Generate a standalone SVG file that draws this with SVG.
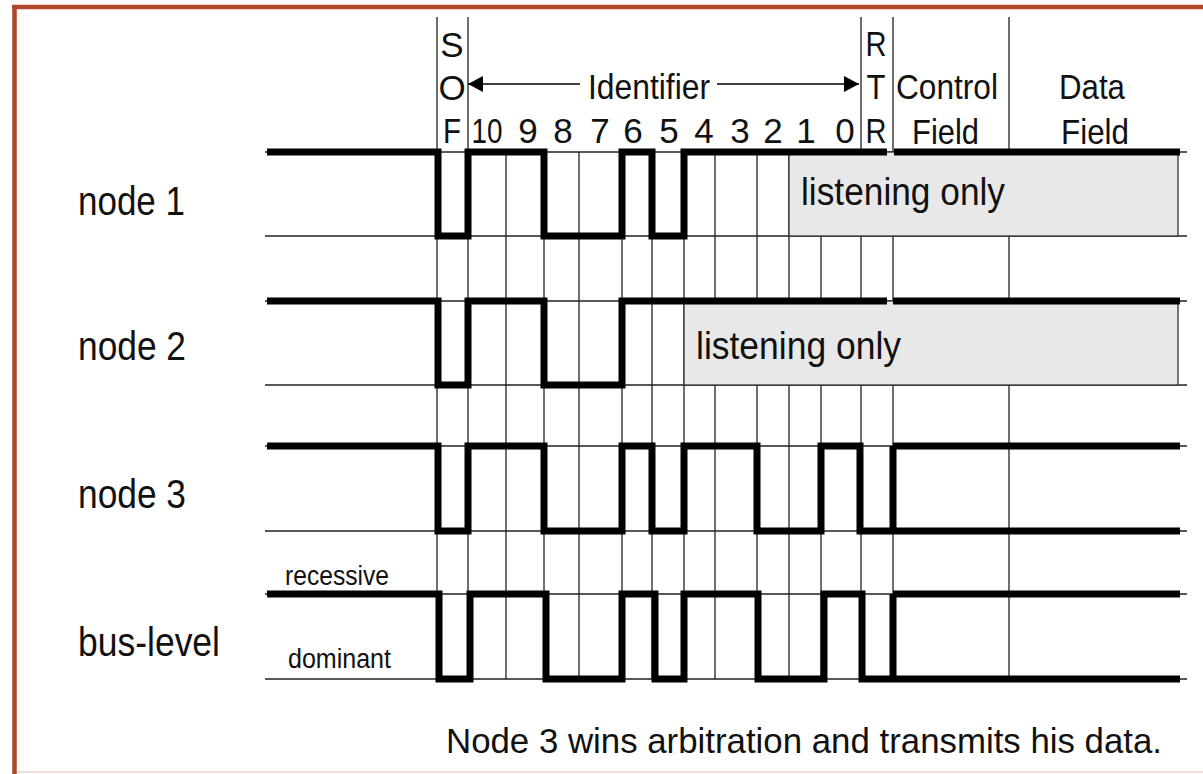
<svg xmlns="http://www.w3.org/2000/svg" width="1203" height="774" viewBox="0 0 1203 774">
<style>
text{font-family:"Liberation Sans",Arial,sans-serif;fill:#111}
.hd{font-size:35px}
.lbl{font-size:41px}
.sm{font-size:27px}
.li{font-size:39px}
.thin{stroke:#222;stroke-width:1.3;fill:none}
.sig{stroke:#000;stroke-width:7;fill:none;stroke-linejoin:miter;stroke-linecap:butt}
.box{fill:#e8e8e8;stroke:#333;stroke-width:1.3}
</style>
<defs>
<marker id="arr" viewBox="0 0 15 16" refX="15" refY="8" markerWidth="15" markerHeight="16" markerUnits="userSpaceOnUse" orient="auto-start-reverse">
<path d="M0,0 L15,8 L0,16 z" fill="#000"/>
</marker>
</defs>
<rect x="0" y="0" width="1203" height="774" fill="#fff"/>
<g id="frame">
<line x1="12" y1="7" x2="1203" y2="7" stroke="#b0472b" stroke-width="4.5"/>
<line x1="14.5" y1="5" x2="14.5" y2="774" stroke="#b0472b" stroke-width="4.5"/>
<line x1="17" y1="772" x2="1203" y2="772" stroke="#ecdfdb" stroke-width="2"/>
</g>
<g id="grid" class="thin">
<path d="M265,152H1187M265,236H1187M265,301H1187M265,385H1187M265,446H1187M265,531H1187M265,594H1187M265,679H1187"/>
<path d="M437,17V679M468,17V679M861,17V679M893,17V679M1009,17V679"/>
<path d="M506,152V679M544,152V679M579,152V679M622,152V679M652,152V679M684,152V679M715,152V679M757,152V679M789,152V679M821,152V679"/>
</g>
<g id="header">
<text class="hd" x="452" y="57" text-anchor="middle">S</text>
<text class="hd" x="452" y="100" text-anchor="middle">O</text>
<text class="hd" x="452" y="143" text-anchor="middle" textLength="18" lengthAdjust="spacingAndGlyphs">F</text>
<text class="hd" x="876" y="56" text-anchor="middle" textLength="21" lengthAdjust="spacingAndGlyphs">R</text>
<text class="hd" x="876" y="99" text-anchor="middle" textLength="19" lengthAdjust="spacingAndGlyphs">T</text>
<text class="hd" x="876" y="143" text-anchor="middle" textLength="21" lengthAdjust="spacingAndGlyphs">R</text>
<text class="hd" x="588" y="99" textLength="122" lengthAdjust="spacingAndGlyphs">Identifier</text>
<text class="hd" x="896" y="99" textLength="102" lengthAdjust="spacingAndGlyphs">Control</text>
<text class="hd" x="912" y="144" textLength="67" lengthAdjust="spacingAndGlyphs">Field</text>
<text class="hd" x="1059" y="99" textLength="66" lengthAdjust="spacingAndGlyphs">Data</text>
<text class="hd" x="1061" y="144" textLength="68" lengthAdjust="spacingAndGlyphs">Field</text>
<g text-anchor="middle">
<text class="hd" x="487" y="143" textLength="31" lengthAdjust="spacingAndGlyphs">10</text>
<text class="hd" x="528" y="143">9</text>
<text class="hd" x="563" y="143">8</text>
<text class="hd" x="600" y="143">7</text>
<text class="hd" x="633" y="143">6</text>
<text class="hd" x="669" y="143">5</text>
<text class="hd" x="704" y="143">4</text>
<text class="hd" x="740" y="143">3</text>
<text class="hd" x="773" y="143">2</text>
<text class="hd" x="806" y="143">1</text>
<text class="hd" x="845" y="143">0</text>
</g>
</g>
<g id="connectors">
<line x1="468" y1="84" x2="580" y2="84" stroke="#000" stroke-width="1.5" marker-start="url(#arr)"/>
<line x1="717" y1="84" x2="859" y2="84" stroke="#000" stroke-width="1.5" marker-end="url(#arr)"/>
</g>
<g id="node1">
<text class="lbl" x="78" y="215" textLength="107" lengthAdjust="spacingAndGlyphs">node 1</text>
<rect class="box" x="789" y="152" width="389" height="84"/>
<text class="li" x="801" y="205" textLength="204" lengthAdjust="spacingAndGlyphs">listening only</text>
<path class="sig" d="M267,152H438V236H468V152H544V236H622V152H652V236H684V152H887M894,152H1180"/>
</g>
<g id="node2">
<text class="lbl" x="78" y="360" textLength="108" lengthAdjust="spacingAndGlyphs">node 2</text>
<rect class="box" x="684" y="301" width="494" height="84"/>
<text class="li" x="696" y="359" textLength="205" lengthAdjust="spacingAndGlyphs">listening only</text>
<path class="sig" d="M267,301H438V385H468V301H544V385H622V301H887M893,301H1180"/>
</g>
<g id="node3">
<text class="lbl" x="78" y="508" textLength="108" lengthAdjust="spacingAndGlyphs">node 3</text>
<path class="sig" d="M267,446H438V531H468V446H544V531H622V446H652V531H684V446H757V531H821V446H860V531H1180M893,446H1180M893,446V531"/>
</g>
<g id="bus">
<text class="lbl" x="78" y="656" textLength="142" lengthAdjust="spacingAndGlyphs">bus-level</text>
<text class="sm" x="285" y="585" textLength="104" lengthAdjust="spacingAndGlyphs">recessive</text>
<text class="sm" x="288" y="668" textLength="103" lengthAdjust="spacingAndGlyphs">dominant</text>
<path class="sig" d="M267,594H439V679H470V594H546V679H622V594H655V679H684V594H758V679H824V594H862V679H1180M893,594H1180M893,594V679"/>
</g>
<g id="caption">
<text x="446" y="753" style="font-size:35px" textLength="716" lengthAdjust="spacingAndGlyphs">Node 3 wins arbitration and transmits his data.</text>
</g>
</svg>
